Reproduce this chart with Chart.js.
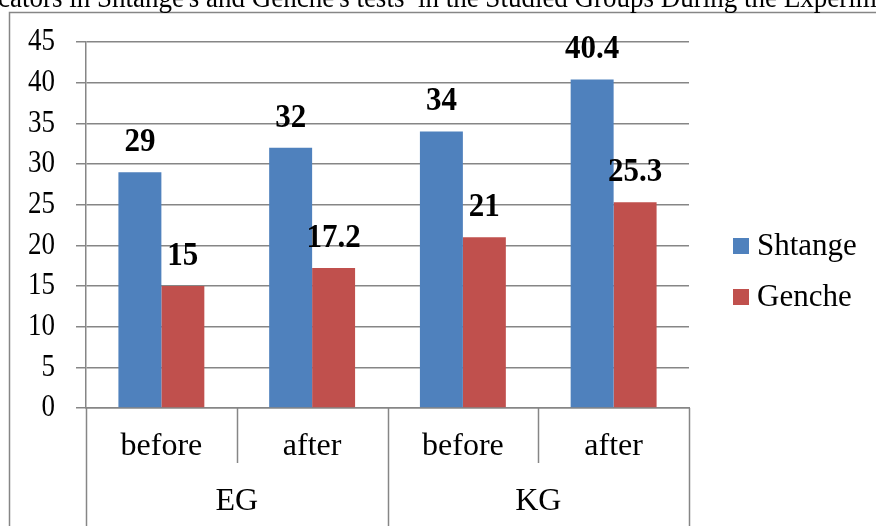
<!DOCTYPE html>
<html>
<head>
<meta charset="utf-8">
<script src="https://cdn.jsdelivr.net/npm/chart.js@4/dist/chart.umd.min.js"></script>
<style>
  html, body { margin: 0; padding: 0; background: #ffffff; }
  canvas { display: block; }
</style>
</head>
<body>
<canvas id="chart" width="876" height="526"></canvas>
<script>
// Test results per group and stage
const categories = ['before', 'after', 'before', 'after'];
const groups = ['EG', 'KG'];
const shtange = [29, 32, 34, 40.4];
const genche = [15, 17.2, 21, 25.3];
const seriesNames = ['Shtange', 'Genche'];
const yTicks = [0, 5, 10, 15, 20, 25, 30, 35, 40, 45];
const titleText = "Indicators in Shtange's and Genche's tests  in the Studied Groups During the Experiment";

const SERIF = '"Liberation Serif", "Times New Roman", serif';
const BLUE = '#4F81BD';
const RED = '#C0504D';
const LINE = '#868686';

// Text drawn with an optional vertical stretch
function drawText(ctx, text, x, y, stretch) {
  ctx.save();
  ctx.translate(x, y);
  ctx.scale(1, stretch || 1);
  ctx.fillText(text, 0, 0);
  ctx.restore();
}

// Frame, title, value labels, axis labels and legend
const decorations = {
  id: 'decorations',
  beforeDraw(chart) {
    const ctx = chart.ctx;
    ctx.save();
    ctx.fillStyle = '#ffffff';
    ctx.fillRect(0, 0, chart.width, chart.height);
    ctx.restore();
  },
  afterDatasetsDraw(chart) {
    const ctx = chart.ctx;
    ctx.save();
    ctx.font = 'bold 31px ' + SERIF;
    ctx.fillStyle = '#000000';
    ctx.textAlign = 'center';
    ctx.textBaseline = 'middle';
    chart.data.datasets.forEach((ds, di) => {
      const meta = chart.getDatasetMeta(di);
      meta.data.forEach((bar, i) => {
        drawText(ctx, String(ds.data[i]), bar.x, bar.y - 30, 1.1);
      });
    });
    ctx.restore();
  },
  afterDraw(chart) {
    const ctx = chart.ctx;
    const xs = chart.scales.x;
    const ys = chart.scales.y;
    const area = chart.chartArea;
    ctx.save();

    // outer frame
    ctx.strokeStyle = LINE;
    ctx.lineWidth = 1.5;
    ctx.beginPath();
    ctx.moveTo(9.5, chart.height + 5);
    ctx.lineTo(9.5, 12.5);
    ctx.lineTo(chart.width + 5, 12.5);
    ctx.stroke();

    // title line
    ctx.font = '27px ' + SERIF;
    ctx.fillStyle = '#000000';
    ctx.textAlign = 'left';
    ctx.textBaseline = 'alphabetic';
    const tx = -ctx.measureText('Indi').width - 2;
    drawText(ctx, titleText, tx, 7, 1.1);

    // value axis labels
    ctx.font = '27px ' + SERIF;
    ctx.textAlign = 'right';
    ctx.textBaseline = 'middle';
    yTicks.forEach(v => {
      drawText(ctx, String(v), 55, ys.getPixelForValue(v), 1.18);
    });

    // category separators
    ctx.strokeStyle = LINE;
    ctx.lineWidth = 1.5;
    for (let i = 0; i <= categories.length; i++) {
      const x = Math.round(xs.getPixelForValue(i - 0.5)) + 0.5;
      const long = i % 2 === 0;
      ctx.beginPath();
      ctx.moveTo(x, area.bottom);
      ctx.lineTo(x, long ? chart.height + 5 : 463);
      ctx.stroke();
    }

    // category and group labels
    ctx.font = '32px ' + SERIF;
    ctx.textAlign = 'center';
    ctx.textBaseline = 'middle';
    categories.forEach((c, i) => {
      drawText(ctx, c, xs.getPixelForValue(i), 447, 1);
    });
    groups.forEach((g, gi) => {
      const l = xs.getPixelForValue(gi * 2 - 0.5);
      const r = xs.getPixelForValue(gi * 2 + 1.5);
      drawText(ctx, g, (l + r) / 2, 502, 1);
    });

    // legend
    ctx.font = '31px ' + SERIF;
    ctx.textAlign = 'left';
    const ly = [246, 297];
    chart.data.datasets.forEach((ds, di) => {
      ctx.fillStyle = ds.backgroundColor;
      ctx.fillRect(733, ly[di] - 8, 16, 16);
      ctx.fillStyle = '#000000';
      drawText(ctx, ds.label, 757, ly[di], 1.05);
    });
    ctx.restore();
  }
};

new Chart(document.getElementById('chart'), {
  type: 'bar',
  data: {
    labels: categories,
    datasets: [
      { label: seriesNames[0], data: shtange, backgroundColor: BLUE },
      { label: seriesNames[1], data: genche, backgroundColor: RED }
    ]
  },
  options: {
    responsive: false,
    animation: false,
    events: [],
    layout: { padding: { top: 42, right: 187, left: 0, bottom: 0 } },
    datasets: {
      bar: { barPercentage: 1, categoryPercentage: 0.57 }
    },
    plugins: {
      legend: { display: false },
      title: { display: false },
      tooltip: { enabled: false }
    },
    scales: {
      x: {
        type: 'category',
        offset: true,
        grid: { display: false },
        border: { display: true, color: LINE, width: 1.5 },
        ticks: { display: false },
        afterFit(s) { s.height = 118; }
      },
      y: {
        min: 0,
        max: 45,
        afterBuildTicks(s) { s.ticks = yTicks.map(v => ({ value: v })); },
        ticks: { display: false },
        grid: { color: LINE, lineWidth: 1.5, tickLength: 10, drawTicks: true },
        border: { display: true, color: LINE, width: 1.5 },
        afterFit(s) { s.width = 86; }
      }
    }
  },
  plugins: [decorations]
});
</script>
</body>
</html>
